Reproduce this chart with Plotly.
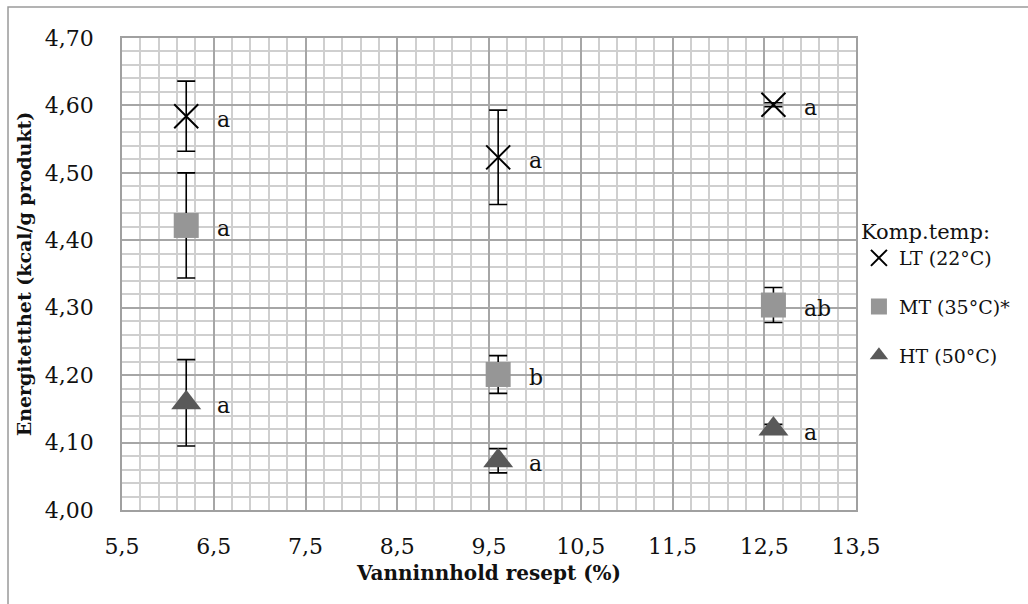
import plotly.graph_objects as go

# Water content of the recipe (%) for each composting temperature group
water = [6.2, 9.6, 12.6]

lt_mean = [4.584, 4.523, 4.601]
lt_err = [0.052, 0.070, 0.003]
lt_letters = ["a", "a", "a"]

mt_mean = [4.422, 4.201, 4.304]
mt_err = [0.078, 0.028, 0.026]
mt_letters = ["a", "b", "ab"]

ht_mean = [4.159, 4.073, 4.120]
ht_err = [0.064, 0.018, 0.007]
ht_letters = ["a", "a", "a"]

series_names = ["LT (22°C)", "MT (35°C)*", "HT (50°C)"]

SERIF = "DejaVu Serif"
TXT = "#111111"

fig = go.Figure()

series = [
    (series_names[0], lt_mean, lt_err, lt_letters,
     dict(symbol="x-thin", size=24, color="#000000", line=dict(color="#000000", width=2))),
    (series_names[1], mt_mean, mt_err, mt_letters,
     dict(symbol="square", size=25, color="#969696", line=dict(width=0))),
    (series_names[2], ht_mean, ht_err, ht_letters,
     dict(symbol="triangle-up", size=26, color="#595959", line=dict(width=0))),
]

for i, (name, mean, err, letters, marker) in enumerate(series):
    fig.add_trace(go.Scatter(
        x=water, y=mean, mode="markers", name=name,
        legendgroup=f"g{i}",
        marker=marker,
        error_y=dict(type="data", array=err, visible=True,
                     color="#000000", thickness=1.6, width=9),
    ))
    for xv, yv, lab in zip(water, mean, letters):
        fig.add_annotation(
            x=xv, y=yv, text=lab, showarrow=False,
            xanchor="left", yanchor="middle", xshift=29, yshift=-3,
            font=dict(family=SERIF, size=22, color=TXT),
        )

# Outer chart frame
fig.add_shape(type="rect", xref="paper", yref="paper",
              x0=-0.1553, x1=1.25, y0=-0.21, y1=1.0657,
              line=dict(color="#9a9a9a", width=1.5), layer="below")

fig.update_layout(
    width=1028, height=604,
    margin=dict(l=122, r=172, t=38, b=94),
    paper_bgcolor="white", plot_bgcolor="white",
    separators=", ",
    font=dict(family=SERIF, size=22, color=TXT),
    showlegend=True,
    legend=dict(
        x=1.004, xanchor="left", y=0.632, yanchor="top",
        title=dict(text="Komp.temp:", font=dict(family=SERIF, size=21, color=TXT)),
        font=dict(family=SERIF, size=19, color=TXT),
        tracegroupgap=21, itemwidth=30,
        bgcolor="rgba(0,0,0,0)",
    ),
    xaxis=dict(
        range=[5.5, 13.5], tick0=5.5, dtick=1, tickformat=".1f",
        showgrid=True, gridcolor="#a6a6a6", gridwidth=1.5,
        minor=dict(dtick=0.2, tick0=5.5, showgrid=True, gridcolor="#cfcfcf", gridwidth=1.6),
        showline=True, linecolor="#a0a0a0", linewidth=1.5, mirror=True,
        zeroline=False, ticks="", ticklabelstandoff=16,
        tickfont=dict(family=SERIF, size=22, color=TXT),
        title=dict(text="<b>Vanninnhold resept (%)</b>", standoff=8,
                   font=dict(family=SERIF, size=20, color=TXT)),
    ),
    yaxis=dict(
        range=[4.0, 4.7], tick0=4.0, dtick=0.1, tickformat=".2f",
        showgrid=True, gridcolor="#a6a6a6", gridwidth=1.5,
        minor=dict(dtick=0.02, tick0=4.0, showgrid=True, gridcolor="#cfcfcf", gridwidth=1.6),
        showline=True, linecolor="#a0a0a0", linewidth=1.5, mirror=True,
        zeroline=False, ticks="", ticklabelstandoff=22,
        tickfont=dict(family=SERIF, size=22, color=TXT),
        title=dict(text="<b>Energitetthet (kcal/g produkt)</b>", standoff=8,
                   font=dict(family=SERIF, size=19, color=TXT)),
    ),
)

fig.write_html("out.html")
